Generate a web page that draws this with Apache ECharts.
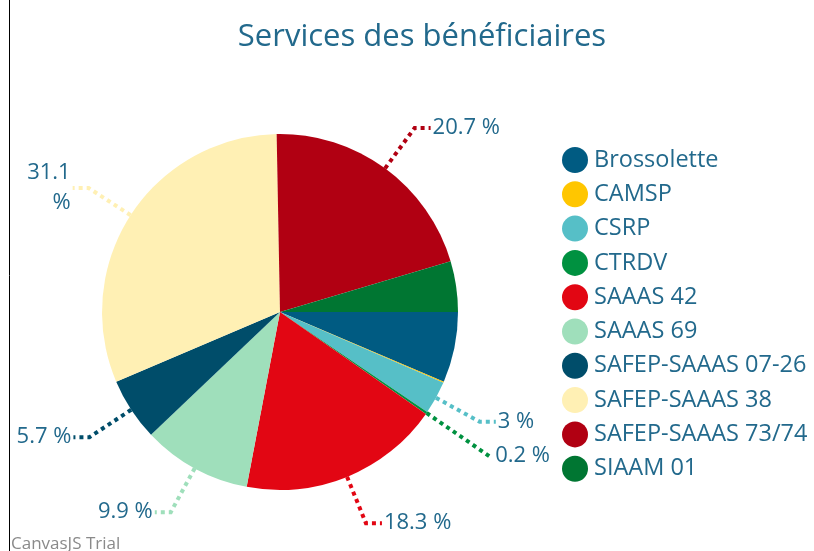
<!DOCTYPE html>
<html>
<head>
<meta charset="utf-8">
<script src="https://cdn.jsdelivr.net/npm/echarts@6/dist/echarts.min.js"></script>
<style>
  html, body { margin: 0; padding: 0; background: #fff; }
  #main { width: 814px; height: 551px; }
</style>
</head>
<body>
<div id="main"></div>
<script>
// données (pourcentages)
var services = ['Brossolette', 'CAMSP', 'CSRP', 'CTRDV', 'SAAAS 42', 'SAAAS 69',
  'SAFEP-SAAAS 07-26', 'SAFEP-SAAAS 38', 'SAFEP-SAAAS 73/74', 'SIAAM 01'];
var pourcentages = [6.4, 0.1, 3, 0.2, 18.3, 9.9, 5.7, 31.1, 20.7, 4.6];
var couleurs = ['#005b82', '#ffc600', '#56bfc7', '#009140', '#e20613', '#9fdfbb',
  '#004d6a', '#fff0b4', '#b10012', '#007632'];
// étiquettes non affichées sur l'original
var sansEtiquette = ['Brossolette', 'CAMSP', 'SIAAM 01'];

var textColor = '#22698c';
var myChart = echarts.init(document.getElementById('main'));

var data = services.map(function (nom, i) {
  var item = { name: nom, value: pourcentages[i], itemStyle: { color: couleurs[i] } };
  if (sansEtiquette.indexOf(nom) >= 0) {
    item.label = { show: false };
    item.labelLine = { show: false };
  }
  if (nom === 'SAFEP-SAAAS 38') {
    item.label = { width: 46, overflow: 'break', lineHeight: 30 };
  }
  if (nom === 'CTRDV') {
    // étiquette décalée vers le bas comme sur l'original
    item.labelLine = { length: 76, length2: 4 };
  }
  return item;
});

var option = {
  animation: false,
  title: {
    text: 'Services des bénéficiaires',
    left: 417,
    textAlign: 'center',
    top: 17,
    textStyle: {
      color: textColor,
      fontFamily: 'Open Sans',
      fontWeight: 'normal',
      fontSize: 31
    }
  },
  legend: {
    orient: 'vertical',
    left: 557,
    top: 142,
    icon: 'circle',
    itemWidth: 26,
    itemHeight: 26,
    itemGap: 8.3,
    data: services,
    textStyle: {
      color: textColor,
      fontFamily: 'Open Sans',
      fontSize: 23.5,
      padding: [0, 0, 0, 1]
    }
  },
  graphic: [
    {
      type: 'line',
      shape: { x1: 9.5, y1: 0, x2: 9.5, y2: 551 },
      style: { stroke: '#000', lineWidth: 1 }
    },
    {
      type: 'text',
      left: 11,
      top: 536,
      style: { text: 'CanvasJS Trial', fill: '#8a8a8a', font: '17px "Open Sans"' }
    }
  ],
  series: [
    {
      type: 'pie',
      center: [280, 312],
      radius: 178,
      startAngle: 0,
      clockwise: true,
      avoidLabelOverlap: true,
      label: {
        show: true,
        color: textColor,
        fontFamily: 'Open Sans',
        fontSize: 22,
        distanceToLabelLine: 2,
        formatter: function (p) { return p.value + ' %'; }
      },
      labelLine: {
        show: true,
        length: 50,
        length2: 16,
        lineStyle: { type: [4, 4], width: 4 }
      },
      labelLayout: { hideOverlap: false },
      emphasis: { scale: false },
      data: data
    }
  ]
};

myChart.setOption(option);
</script>
</body>
</html>
